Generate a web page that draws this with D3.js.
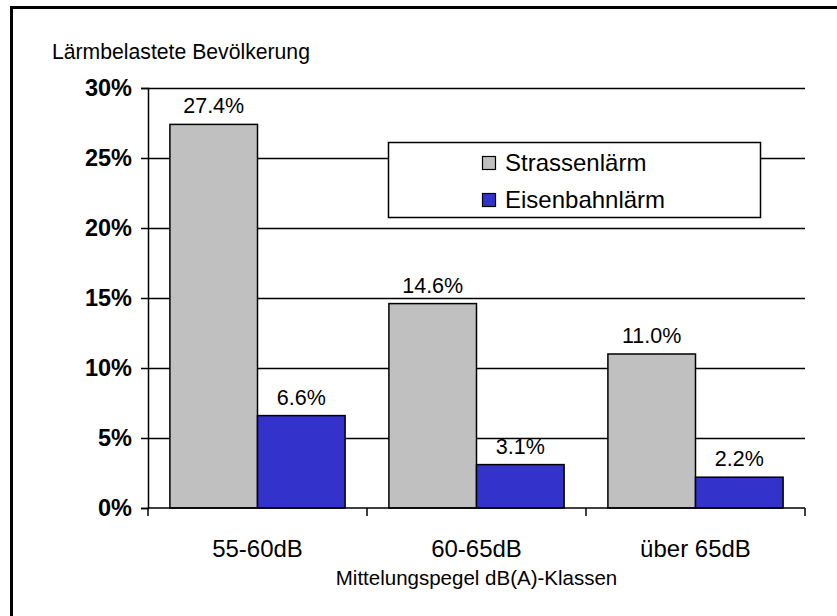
<!DOCTYPE html>
<html>
<head>
<meta charset="utf-8">
<script src="https://cdn.jsdelivr.net/npm/d3@7"></script>
<style>
  html, body { margin: 0; padding: 0; background: #fff; }
  svg { display: block; font-family: "Liberation Sans", Arial, sans-serif; }
</style>
</head>
<body>
<svg id="chart" width="837" height="616"></svg>
<script>
const categories = ["55-60dB", "60-65dB", "über 65dB"];
const seriesNames = ["Strassenlärm", "Eisenbahnlärm"];
const strassen = [27.4, 14.6, 11.0];
const eisenbahn = [6.6, 3.1, 2.2];
const yTicks = [0, 5, 10, 15, 20, 25, 30];
const colors = ["#c0c0c0", "#3333cc"];

const svg = d3.select("#chart");

// outer frame
svg.append("rect").attr("x", 11.5).attr("y", 7.5).attr("width", 900).attr("height", 700)
  .attr("fill", "none").attr("stroke", "#000").attr("stroke-width", 3);

const plotL = 148, plotR = 805, plotT = 88, plotB = 508;
const x = d3.scaleBand().domain(categories).range([plotL, plotR]).paddingInner(0.2).paddingOuter(0.1);
const xs = d3.scaleBand().domain(seriesNames).range([0, x.bandwidth()]);
const y = d3.scaleLinear().domain([0, 30]).range([plotB, plotT]);

// gridlines
svg.append("g").selectAll("line").data(yTicks.filter(d => d > 0)).join("line")
  .attr("x1", plotL).attr("x2", plotR)
  .attr("y1", d => Math.round(y(d)) + 0.5).attr("y2", d => Math.round(y(d)) + 0.5)
  .attr("stroke", "#000").attr("stroke-width", 1.5);

// y axis
const yAxis = d3.axisLeft(y).tickValues(yTicks).tickFormat(d => d + "%").tickSize(7).tickPadding(9);
const gy = svg.append("g").attr("transform", `translate(${plotL},0)`).call(yAxis);
gy.select(".domain").attr("stroke-width", 1.5);
gy.selectAll(".tick line").attr("stroke-width", 1.5);
gy.selectAll(".tick text").attr("font-size", 23.5).attr("font-weight", "bold")
  .attr("font-family", "Liberation Sans, Arial, sans-serif").attr("fill", "#000");

// bars
const data = categories.map((c, i) => ({ cat: c, vals: [strassen[i], eisenbahn[i]] }));
const groups = svg.append("g").selectAll("g").data(data).join("g")
  .attr("transform", d => `translate(${x(d.cat)},0)`);
groups.selectAll("rect").data(d => d.vals.map((v, j) => ({ v, s: seriesNames[j], j }))).join("rect")
  .attr("x", d => xs(d.s)).attr("width", xs.bandwidth())
  .attr("y", d => y(d.v)).attr("height", d => plotB - y(d.v))
  .attr("fill", d => colors[d.j]).attr("stroke", "#000").attr("stroke-width", 1.5);
groups.selectAll("text").data(d => d.vals.map((v, j) => ({ v, s: seriesNames[j] }))).join("text")
  .attr("x", d => xs(d.s) + xs.bandwidth() / 2).attr("y", d => y(d.v) - 11)
  .attr("text-anchor", "middle").attr("font-size", 21.5).attr("fill", "#000")
  .text(d => d.v.toFixed(1) + "%");

// x axis
const xAxisLine = svg.append("g");
xAxisLine.append("line").attr("x1", plotL).attr("x2", plotR).attr("y1", plotB).attr("y2", plotB)
  .attr("stroke", "#000").attr("stroke-width", 1.5);
const boundaries = [plotL].concat(categories.map(c => x(c) + x.bandwidth() + x.step() * 0.1));
xAxisLine.selectAll("line.t").data(boundaries).join("line").attr("class", "t")
  .attr("x1", d => d).attr("x2", d => d).attr("y1", plotB).attr("y2", plotB + 8)
  .attr("stroke", "#000").attr("stroke-width", 1.5);
xAxisLine.selectAll("text").data(categories).join("text")
  .attr("x", d => x(d) + x.bandwidth() / 2).attr("y", 557)
  .attr("text-anchor", "middle").attr("font-size", 24).attr("fill", "#000").text(d => d);

// axis titles
svg.append("text").attr("x", 52).attr("y", 59).attr("font-size", 21.2).text("Lärmbelastete Bevölkerung");
svg.append("text").attr("x", (plotL + plotR) / 2).attr("y", 585).attr("text-anchor", "middle")
  .attr("font-size", 20.5).text("Mittelungspegel dB(A)-Klassen");

// legend
const lg = svg.append("g");
lg.append("rect").attr("x", 388.5).attr("y", 142.5).attr("width", 372).attr("height", 75)
  .attr("fill", "#fff").attr("stroke", "#000").attr("stroke-width", 1.5);
seriesNames.forEach((s, i) => {
  const yy = 156 + i * 37;
  lg.append("rect").attr("x", 482.5).attr("y", yy + 0.5).attr("width", 13).attr("height", 13)
    .attr("fill", colors[i]).attr("stroke", "#000").attr("stroke-width", 1.2);
  lg.append("text").attr("x", 505).attr("y", yy + 14.5).attr("font-size", 24).text(s);
});
</script>
</body>
</html>
